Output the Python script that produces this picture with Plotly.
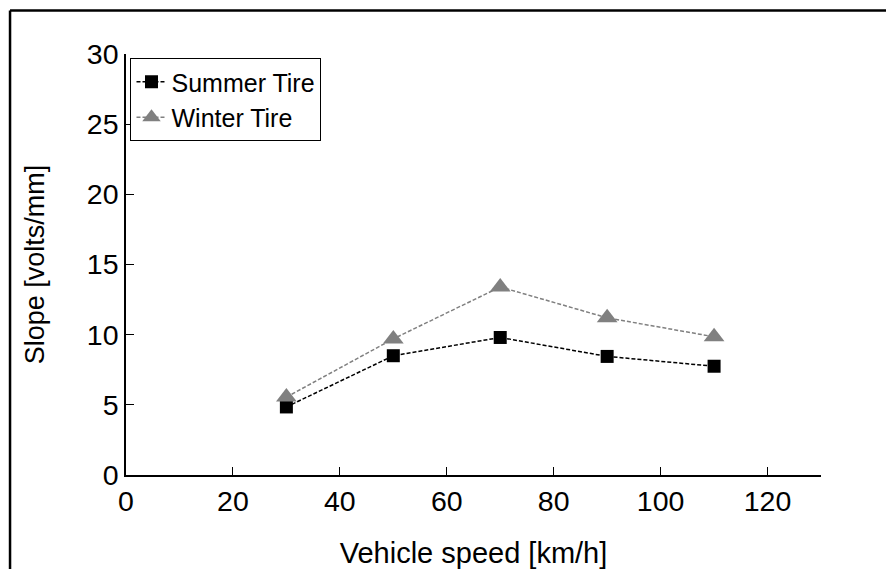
import plotly.graph_objects as go

speed = [30, 50, 70, 90, 110]
summer = [4.85, 8.5, 9.8, 8.45, 7.75]
winter = [5.55, 9.7, 13.4, 11.2, 9.85]
x_ticks = [0, 20, 40, 60, 80, 100, 120]
y_ticks = [0, 5, 10, 15, 20, 25, 30]

# the page body adds an 8px offset; layout is expressed in figure-local pixels
W, H = 886, 561
L, T = 117.5, 46
R = W - 812.7
B = H - 467
pw, ph = W - L - R, H - T - B

fig = go.Figure()
fig.add_trace(go.Scatter(
    x=speed, y=summer, name="Summer Tire", mode="lines+markers",
    line=dict(color="black", width=1.5, dash="4px,2px"),
    marker=dict(symbol="square", size=13, color="black")))
fig.add_trace(go.Scatter(
    x=speed, y=winter, name="Winter Tire", mode="lines+markers",
    line=dict(color="#808080", width=1.5, dash="4px,2px"),
    marker=dict(symbol="triangle-up", size=18, color="#808080")))

font = "Liberation Sans, Arial, sans-serif"
fig.update_layout(
    width=W, height=H,
    margin=dict(l=L, r=R, t=T, b=B, pad=0),
    paper_bgcolor="white", plot_bgcolor="white",
    font=dict(family=font, size=28, color="black"),
    showlegend=True,
    legend=dict(x=(122 - L) / pw, y=(H - B - 50) / ph, xanchor="left", yanchor="top",
                bordercolor="black", borderwidth=1, bgcolor="white",
                font=dict(family=font, size=25), itemwidth=30, tracegroupgap=0),
    xaxis=dict(range=[0, 130], tickvals=x_ticks, ticks="inside", ticklen=8,
               tickcolor="black", showline=True, linecolor="black", linewidth=1.5,
               showgrid=False, zeroline=False, mirror=False, automargin=False,
               title=dict(text="Vehicle speed [km/h]", standoff=34,
                          font=dict(family=font, size=29)),
               tickfont=dict(family=font, size=28.5)),
    yaxis=dict(range=[0, 30], tickvals=y_ticks, ticks="inside", ticklen=8,
               tickcolor="black", showline=True, linecolor="black", linewidth=1.5,
               showgrid=False, zeroline=False, mirror=False, automargin=False,
               title=dict(text="Slope [volts/mm]", standoff=34,
                          font=dict(family=font, size=27)),
               tickfont=dict(family=font, size=28.5)),
)

# outer frame (top and left edges)
x0 = (1.5 - L) / pw
y0 = (H - B - 2.5) / ph
fig.add_shape(type="line", xref="paper", yref="paper", x0=x0, x1=(W - L) / pw + 0.02,
              y0=y0, y1=y0, line=dict(color="black", width=2.5))
fig.add_shape(type="line", xref="paper", yref="paper", x0=x0, x1=x0,
              y0=y0, y1=-(B + 5) / ph, line=dict(color="black", width=2.5))

fig.write_html("out.html")
